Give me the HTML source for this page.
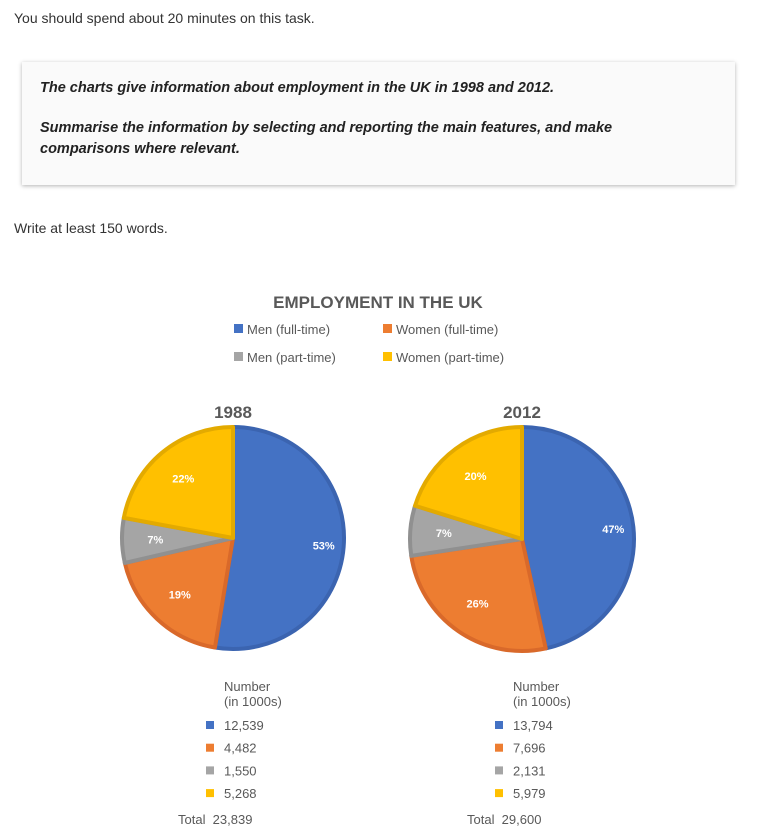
<!DOCTYPE html>
<html><head><meta charset="utf-8"><style>
body{margin:0;width:762px;height:837px;background:#fff;font-family:"Liberation Sans",sans-serif;color:#333;position:relative;overflow:hidden}
.t{position:absolute;white-space:nowrap}
#box{position:absolute;left:22px;top:62px;width:713px;height:123px;background:#fafafa;box-shadow:0 1px 4px rgba(0,0,0,.3)}
.bi{font-weight:bold;font-style:italic;font-size:14.5px;color:#222}
</style></head><body>
<div class="t" style="left:14px;top:10px;font-size:14px">You should spend about 20 minutes on this task.</div>
<div id="box">
<div class="t bi" style="left:18px;top:18px">The charts give information about employment in the UK in 1998 and 2012.</div>
<div class="t bi" style="left:18px;top:56px;line-height:21px">Summarise the information by selecting and reporting the main features, and make<br>comparisons where relevant.</div>
</div>
<div class="t" style="left:14px;top:220px;font-size:14px">Write at least 150 words.</div>
<svg id="chart" width="762" height="837" style="position:absolute;left:0;top:0" xmlns="http://www.w3.org/2000/svg"></svg>
<script>
const categories=["Men (full-time)","Women (full-time)","Men (part-time)","Women (part-time)"];
const years=["1988","2012"];
const values1988=[12539,4482,1550,5268];
const values2012=[13794,7696,2131,5979];
const totals=["23,839","29,600"];
const colors=["#4472C4","#ED7D31","#A5A5A5","#FFC000"];
const strokes=["#3B64B0","#D9692A","#909090","#E3AA00"];
const NS="http://www.w3.org/2000/svg";
const svg=document.getElementById('chart');
function mk(tag,attrs,parent){const e=document.createElementNS(NS,tag);for(const k in attrs)e.setAttribute(k,attrs[k]);(parent||svg).appendChild(e);return e;}
let e=mk('text',{x:378,y:308,'text-anchor':'middle','font-size':17,'font-weight':'bold',fill:'#595959','font-family':'Liberation Sans'});


e.textContent="EMPLOYMENT IN THE UK";
const legPos=[[234,334],[383,334],[234,362],[383,362]];
categories.forEach((c,i)=>{
 const g=mk('g',{});
 
 
 mk('rect',{x:legPos[i][0],y:legPos[i][1]-10,width:9,height:9,fill:colors[i]},g);
 const t=mk('text',{x:legPos[i][0]+13,y:legPos[i][1],'font-size':13,fill:'#595959'},g);t.textContent=c;
});
function pie(vals,cx,cy,r,year,idx){
 const sum=vals.reduce((a,b)=>a+b,0);
 let yt=mk('text',{x:cx,y:418,'text-anchor':'middle','font-size':17,'font-weight':'bold',fill:'#595959'});
 
 
 yt.textContent=year;
 let a0=0;
 vals.forEach((v,i)=>{
  const f=v/sum,a1=a0+f*2*Math.PI;
  const x0=cx+r*Math.sin(a0),y0=cy-r*Math.cos(a0),x1=cx+r*Math.sin(a1),y1=cy-r*Math.cos(a1);
  const p=mk('path',{d:`M${cx},${cy}L${x0},${y0}A${r},${r} 0 ${f>0.5?1:0} 1 ${x1},${y1}Z`,fill:colors[i],stroke:strokes[i],'stroke-width':4,'stroke-linejoin':'round'});
  
  
  const am=(a0+a1)/2,lr=r*(i==0?0.82:0.7);
  const t=mk('text',{x:cx+lr*Math.sin(am),y:cy-lr*Math.cos(am)+4,'text-anchor':'middle','font-size':11,'font-weight':'bold',fill:'#fff'});
  
  
  t.textContent=Math.round(f*100)+'%';
  a0=a1;
 });
 const nx=cx-9;
 const h=mk('text',{x:nx,y:691,'font-size':13,fill:'#595959'});
 
 
 h.textContent="Number";
 const h2=mk('text',{x:nx,y:706,'font-size':13,fill:'#595959'});h2.textContent="(in 1000s)";
 vals.forEach((v,i)=>{
  const y=730+i*22.7;
  mk('rect',{x:nx-18,y:y-9,width:8,height:8,fill:colors[i]});
  const t=mk('text',{x:nx,y:y,'font-size':13,fill:'#595959'});
  
  
  t.textContent=v.toLocaleString('en-US');
 });
 const tl=mk('text',{x:nx-46,y:824,'font-size':13,fill:'#595959'});
 
 
 tl.textContent="Total  "+totals[idx];
 tl.setAttribute('xml:space','preserve');tl.style.whiteSpace='pre';
}
pie(values1988,233,538,111,years[0],0);
pie(values2012,522,539,112,years[1],1);
</script>
</body></html>
